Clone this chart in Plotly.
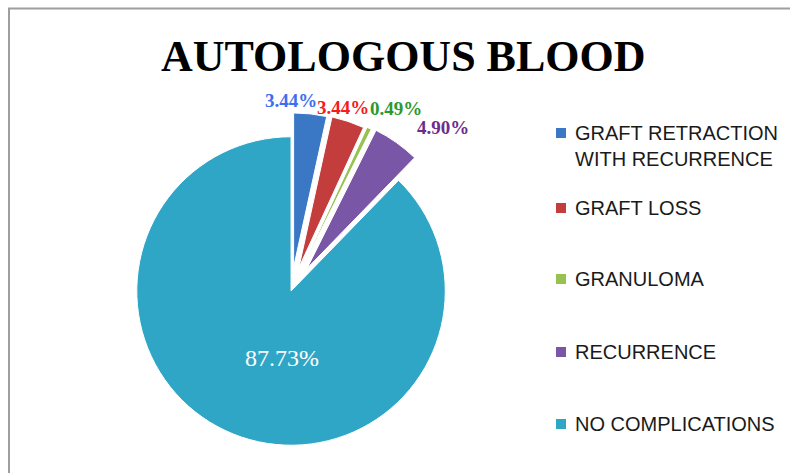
import plotly.graph_objects as go

W, H = 790, 473

categories = ["GRAFT RETRACTION<br>WITH RECURRENCE", "GRAFT LOSS", "GRANULOMA",
              "RECURRENCE", "NO COMPLICATIONS"]
values = [3.44, 3.44, 0.49, 4.90, 87.73]
value_labels = ["3.44%", "3.44%", "0.49%", "4.90%", "87.73%"]
title_text = "AUTOLOGOUS BLOOD"

slice_colors = ["#3A77C4", "#C43D3D", "#98C24F", "#7A56A6", "#30A6C7"]
label_colors = ["#3E6DF0", "#F51C1C", "#2E982E", "#6C2C8E", "#FFFFFF"]
pulls = [0.155, 0.16, 0.17, 0.18, 0.0]

# label anchor positions (figure pixels) and fonts
label_pos = [(291, 101), (343, 107), (396, 108), (443, 128), (282, 358)]
label_bold = [True, True, True, True, False]
label_size = [19, 19, 19, 19, 24]


def px(x):
    return x / W


def py(y):
    return 1 - y / H


fig = go.Figure()
fig.add_trace(go.Pie(
    labels=categories,
    values=values,
    textinfo="none",
    sort=False,
    direction="clockwise",
    rotation=0,
    pull=pulls,
    marker=dict(colors=slice_colors, line=dict(color="#FFFFFF", width=1)),
    domain=dict(x=[0.1184, 0.6184], y=[0, 0.7696]),
    showlegend=False,
    hoverinfo="skip",
))

shapes = [
    dict(type="line", xref="paper", yref="paper", x0=px(8), x1=1, y0=py(8.5), y1=py(8.5),
         line=dict(color="#9E9E9E", width=2)),
    dict(type="line", xref="paper", yref="paper", x0=px(9), x1=px(9), y0=py(8), y1=0,
         line=dict(color="#9E9E9E", width=2)),
]
annotations = [
    dict(text="<b>" + title_text + "</b>", x=px(403), y=py(56), xref="paper", yref="paper",
         showarrow=False, xanchor="center", yanchor="middle",
         font=dict(family="Liberation Serif", size=44, color="#000000")),
]

for txt, (lx, ly), col, bold, sz in zip(value_labels, label_pos, label_colors,
                                        label_bold, label_size):
    annotations.append(dict(text=("<b>%s</b>" % txt) if bold else txt,
                            x=px(lx), y=py(ly), xref="paper", yref="paper",
                            showarrow=False, xanchor="center", yanchor="middle",
                            font=dict(family="Liberation Serif", size=sz, color=col)))

# legend (square swatch + label)
legend_y = [133, 208, 279, 352, 424]
for cat, col, yy in zip(categories, slice_colors, legend_y):
    shapes.append(dict(type="rect", xref="paper", yref="paper",
                       x0=px(556), x1=px(566), y0=py(yy + 5), y1=py(yy - 5),
                       fillcolor=col, line=dict(width=0)))
    annotations.append(dict(text=cat, x=px(573), y=py(yy - 13), xref="paper", yref="paper",
                            showarrow=False, xanchor="left", yanchor="top", align="left",
                            font=dict(family="Liberation Sans", size=20, color="#1A1A1A")))

fig.update_layout(
    width=W, height=H,
    margin=dict(l=0, r=0, t=0, b=0),
    paper_bgcolor="#FFFFFF",
    plot_bgcolor="#FFFFFF",
    shapes=shapes,
    annotations=annotations,
)

fig.write_html("out.html",
               config={"displayModeBar": False},
               post_script="document.body.style.margin='0';document.body.style.overflow='hidden';")
